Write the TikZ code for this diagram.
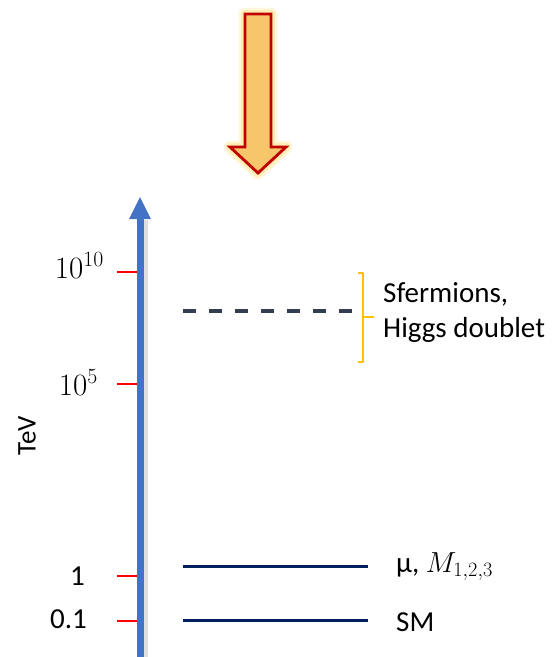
\RequirePackage{fix-cm}
\documentclass[tikz,border=0pt]{standalone}
\usepackage{fontspec}
\setmainfont{Carlito}
\usetikzlibrary{arrows.meta}
\definecolor{axisblue}{HTML}{4472C4}
\definecolor{tickred}{HTML}{FF0000}
\definecolor{navy}{HTML}{002060}
\definecolor{slate}{HTML}{333F50}
\definecolor{braceorange}{HTML}{FFC000}
\definecolor{arrowfill}{HTML}{F8C66A}
\definecolor{arrowred}{HTML}{C00000}
\definecolor{glow}{HTML}{FFE699}
\tikzset{
  tickmark/.style={draw=tickred, line width=1.6pt},
  ticklabel/.style={anchor=base east, inner sep=0pt, font=\fontsize{29}{32}\selectfont},
  mathlabel/.style={anchor=base east, inner sep=0pt, font=\fontsize{31}{34}\selectfont},
  level/.style={draw=navy, line width=3pt},
  dashlevel/.style={draw=slate, line width=3.2pt, dash pattern=on 13pt off 13pt},
  lbl/.style={anchor=base west, inner sep=0pt, font=\fontsize{29}{33}\selectfont},
}
\begin{document}
\begin{tikzpicture}[x=1pt,y=-1pt]
\useasboundingbox (0,0) rectangle (557,657);
% big arrow with glow
\path[draw=glow, line width=13pt, opacity=0.35, line join=round]
  (245,14) -- (271,14) -- (271,147) -- (286,147) -- (258,173) -- (230,147) -- (245,147) -- cycle;
\path[draw=glow, line width=8pt, opacity=0.6, line join=round]
  (245,14) -- (271,14) -- (271,147) -- (286,147) -- (258,173) -- (230,147) -- (245,147) -- cycle;
\path[fill=arrowfill, draw=arrowred, line width=2.8pt, line join=miter]
  (245,14) -- (271,14) -- (271,147) -- (286,147) -- (258,173) -- (230,147) -- (245,147) -- cycle;
% axis
\coordinate (abot) at (140,657);
\coordinate (atop) at (140,197);
\draw[gray!35, line width=4pt, opacity=0.7] (145.5,657) -- (145.5,220);
\draw[axisblue, line width=7pt] (abot) -- (140,214);
\fill[axisblue] (129,219) -- (151,219) -- (atop) -- cycle;
% ticks
\foreach \y/\n in {272/t10, 384/t5, 576/t1, 621/t01}{
  \coordinate (\n) at (117,\y);
  \draw[tickmark] (\n) -- (137,\y);
}
\node[mathlabel] (l10) at (104,278) {$10^{10}$};
\node[mathlabel] (l5) at (98,395) {$10^{5}$};
\node[ticklabel] (l1) at (85,585) {1};
\node[ticklabel] (l01) at (87,628) {0.1};
\node[rotate=90, inner sep=0pt, font=\fontsize{27}{30}\selectfont] (tev) at (27,436) {TeV};
% levels
\coordinate (d1) at (183,311); \coordinate (d2) at (355,311);
\draw[dashlevel] (d1) -- (d2);
\coordinate (m1) at (183,566); \coordinate (m2) at (368,566);
\draw[level] (m1) -- (m2);
\coordinate (s1) at (183,620); \coordinate (s2) at (368,620);
\draw[level] (s1) -- (s2);
% brace
\draw[braceorange, line width=1.5pt, line join=round] (358,273) -- (363,273) -- (363,362) -- (358,362);
\draw[braceorange, line width=1.5pt] (363,317) -- (374,317);
% labels
\node[lbl] (sf) at (383,302) {Sfermions,};
\node[lbl] (hd) at (383,337) {Higgs doublet};
\node[lbl] (mu) at (396,572) {μ, $M_{1,2,3}$};
\node[lbl] (sm) at (396,631) {SM};
\end{tikzpicture}
\end{document}
